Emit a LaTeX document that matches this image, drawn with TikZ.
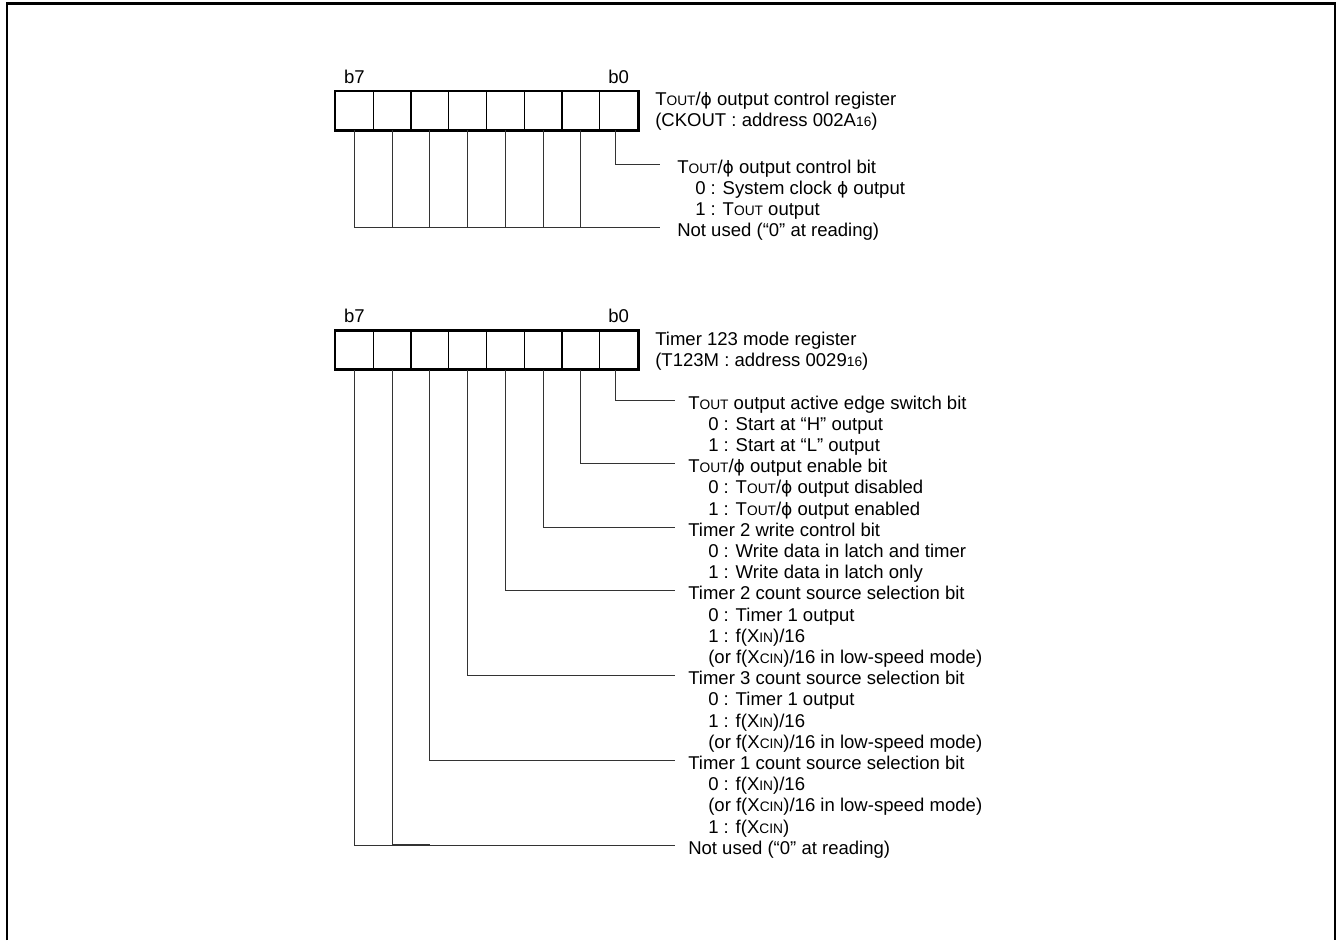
\documentclass[tikz,border=0pt]{standalone}
\usepackage{fontspec}
\setmainfont{Liberation Sans}
\newfontfamily\phifnt{DejaVu Sans}
\newcommand{\mysm}[1]{{\fontsize{10.3}{10}\selectfont #1}}
\newcommand{\Tout}{T\mysm{OUT}}
\newcommand{\myphi}{{\phifnt\fontsize{12.8}{13}\selectfont ϕ}}
\newcommand{\Xin}{X\mysm{IN}}
\newcommand{\Xcin}{X\mysm{CIN}}
\newcommand{\sixteen}{\mysm{16}}
\begin{document}
\begin{tikzpicture}[x=0.75pt,y=-0.75pt]
\tikzset{
  txt/.style={inner sep=0pt, font=\fontsize{13.9}{16}\selectfont},
  hd/.style={txt, anchor=base west},
  cell/.style={draw, line width=1pt, minimum width=28.3125pt, minimum height=28.5pt, inner sep=0pt},
  outer/.style={line width=2pt},
  leader/.style={line width=0.75pt, draw=black!80},
  frame/.style={line width=2pt}
}
\useasboundingbox (0,0) rectangle (1339,940);
\draw[frame] (7,940) -- (7,3.5) -- (1335,3.5) -- (1335,940);

% ---- register cells
\foreach \b in {0,...,7}{
  \node[cell] (a\b) at ({335.5+37.75*(7-\b)+18.875},110.5) {};
  \node[cell] (c\b) at ({335.5+37.75*(7-\b)+18.875},350) {};
}
\draw[outer] (a7.north west) rectangle (a0.south east);
\draw[outer] (c7.north west) rectangle (c0.south east);

\node[txt, anchor=base] (a7l) at ([yshift=5.6pt]a7.north) {b7};
\node[txt, anchor=base] (a0l) at ([yshift=5.6pt]a0.north) {b0};
\node[txt, anchor=base] (c7l) at ([yshift=5.6pt]c7.north) {b7};
\node[txt, anchor=base] (c0l) at ([yshift=5.6pt]c0.north) {b0};

% ---- titles
\node[hd] (at1) at (655,105) {\Tout/\myphi{} output control register};
\node[hd] (at2) at (655,126) {(CKOUT : address 002A\sixteen)};
\node[hd] (ct1) at (655,345) {Timer 123 mode register};
\node[hd] (ct2) at (655,366) {(T123M : address 0029\sixteen)};

% ---- register 1 leaders
\coordinate (ae0) at (660,164);
\coordinate (ae1) at (660,227.6);
\draw[leader] ([xshift=-2pt]a0.south) |- (ae0);
\draw[leader] (a7.south) |- (ae1);
\foreach \b in {1,...,6} \draw[leader] (a\b.south) -- (a\b.south |- ae1);

\node[hd] (al0) at (677,173) {\Tout/\myphi{} output control bit};
\node[hd] (al1) at (695,194.2) {0 : System clock \myphi{} output};
\node[hd] (al2) at (695,215.4) {1 : \Tout{} output};
\node[hd] (al3) at (677,236.6) {Not used (“0” at reading)};

% ---- register 2 leaders
\coordinate (ce0) at (675,400);
\coordinate (ce1) at (675,463.6);
\coordinate (ce2) at (675,527.2);
\coordinate (ce3) at (675,590.8);
\coordinate (ce4) at (675,675.6);
\coordinate (ce5) at (675,760.4);
\coordinate (ce6) at (675,845.2);
\draw[leader] ([xshift=-2pt]c0.south) |- (ce0);
\draw[leader] (c1.south) |- (ce1);
\draw[leader] (c2.south) |- (ce2);
\draw[leader] (c3.south) |- (ce3);
\draw[leader] (c4.south) |- (ce4);
\draw[leader] (c5.south) |- (ce5);
\draw[leader] (c7.south) |- (ce6);
\draw[leader] (c6.south) -- (c6.south |- ce6);
\coordinate (cst) at (430,844.1);
\draw[leader] (c6.south |- cst) -- (cst);

\node[hd] (cl0)  at (688,409) {\Tout{} output active edge switch bit};
\node[hd] (cl1)  at (708,430.2) {0 : Start at “H” output};
\node[hd] (cl2)  at (708,451.4) {1 : Start at “L” output};
\node[hd] (cl3)  at (688,472.6) {\Tout/\myphi{} output enable bit};
\node[hd] (cl4)  at (708,493.8) {0 : \Tout/\myphi{} output disabled};
\node[hd] (cl5)  at (708,515) {1 : \Tout/\myphi{} output enabled};
\node[hd] (cl6)  at (688,536.2) {Timer 2 write control bit};
\node[hd] (cl7)  at (708,557.4) {0 : Write data in latch and timer};
\node[hd] (cl8)  at (708,578.6) {1 : Write data in latch only};
\node[hd] (cl9)  at (688,599.8) {Timer 2 count source selection bit};
\node[hd] (cl10) at (708,621) {0 : Timer 1 output};
\node[hd] (cl11) at (708,642.2) {1 : f(\Xin)/16};
\node[hd] (cl12) at (708,663.4) {(or f(\Xcin)/16 in low-speed mode)};
\node[hd] (cl13) at (688,684.6) {Timer 3 count source selection bit};
\node[hd] (cl14) at (708,705.8) {0 : Timer 1 output};
\node[hd] (cl15) at (708,727) {1 : f(\Xin)/16};
\node[hd] (cl16) at (708,748.2) {(or f(\Xcin)/16 in low-speed mode)};
\node[hd] (cl17) at (688,769.4) {Timer 1 count source selection bit};
\node[hd] (cl18) at (708,790.6) {0 : f(\Xin)/16};
\node[hd] (cl19) at (708,811.8) {(or f(\Xcin)/16 in low-speed mode)};
\node[hd] (cl20) at (708,833) {1 : f(\Xcin)};
\node[hd] (cl21) at (688,854.2) {Not used (“0” at reading)};
\end{tikzpicture}
\end{document}
